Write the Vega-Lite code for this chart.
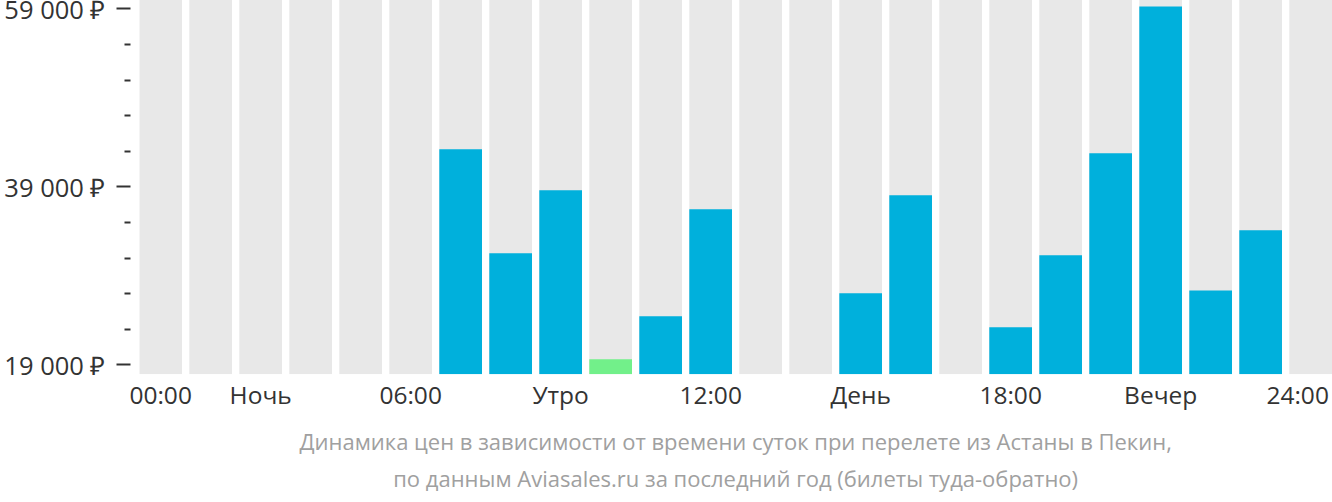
{
  "$schema": "https://vega.github.io/schema/vega-lite/v6.json",
  "width": 1192.7,
  "height": 374.3,
  "autosize": {"type": "none"},
  "padding": {"left": 139.3, "top": 0, "right": 0, "bottom": 127.7},
  "background": "white",
  "config": {
    "view": {"stroke": null},
    "font": "Open Sans"
  },
  "title": {
    "text": ["Динамика цен в зависимости от времени суток при перелете из Астаны в Пекин,", "по данным Aviasales.ru за последний год (билеты туда-обратно)"],
    "orient": "bottom",
    "anchor": "middle",
    "fontSize": 22,
    "fontWeight": "normal",
    "color": "#a0a0a0",
    "lineHeight": 37,
    "offset": 25
  },
  "data": {
    "values": [
      {"hour": 0, "price": null, "kind": "none"},
      {"hour": 1, "price": null, "kind": "none"},
      {"hour": 2, "price": null, "kind": "none"},
      {"hour": 3, "price": null, "kind": "none"},
      {"hour": 4, "price": null, "kind": "none"},
      {"hour": 5, "price": null, "kind": "none"},
      {"hour": 6, "price": 43160, "kind": "regular"},
      {"hour": 7, "price": 31470, "kind": "regular"},
      {"hour": 8, "price": 38550, "kind": "regular"},
      {"hour": 9, "price": 19560, "kind": "cheapest"},
      {"hour": 10, "price": 24400, "kind": "regular"},
      {"hour": 11, "price": 36420, "kind": "regular"},
      {"hour": 12, "price": null, "kind": "none"},
      {"hour": 13, "price": null, "kind": "none"},
      {"hour": 14, "price": 26980, "kind": "regular"},
      {"hour": 15, "price": 37990, "kind": "regular"},
      {"hour": 16, "price": null, "kind": "none"},
      {"hour": 17, "price": 23160, "kind": "regular"},
      {"hour": 18, "price": 31250, "kind": "regular"},
      {"hour": 19, "price": 42710, "kind": "regular"},
      {"hour": 20, "price": 59220, "kind": "regular"},
      {"hour": 21, "price": 27310, "kind": "regular"},
      {"hour": 22, "price": 34060, "kind": "regular"},
      {"hour": 23, "price": null, "kind": "none"}
    ]
  },
  "encoding": {
    "x": {
      "field": "hour",
      "type": "ordinal",
      "scale": {"paddingInner": 0.146, "paddingOuter": 0},
      "axis": {
        "title": null,
        "domain": false,
        "ticks": false,
        "labelAngle": 0,
        "labelFontSize": 24.5,
        "labelColor": "#333333",
        "labelPadding": 10,
        "labelOverlap": false,
        "labelBound": false,
        "values": [0, 2, 5, 8, 11, 14, 17, 20, 23],
        "labelOffset": {"condition": {"test": "datum.value == 23", "value": -13}, "value": 0},
        "labelExpr": "{'0':'00:00','2':'Ночь','5':'06:00','8':'Утро','11':'12:00','14':'День','17':'18:00','20':'Вечер','23':'24:00'}[datum.value + '']"
      }
    }
  },
  "layer": [
    {
      "mark": {"type": "bar", "color": "#e8e8e8", "clip": true},
      "encoding": {
        "y": {
          "datum": 59940,
          "type": "quantitative",
          "scale": {"domain": [17880, 59940], "zero": false, "nice": false},
          "axis": {
            "title": null,
            "domain": false,
            "grid": false,
            "offset": 9.3,
            "tickCount": 20,
            "values": [19000, 23000, 27000, 31000, 35000, 39000, 43000, 47000, 51000, 55000, 59000],
            "tickColor": "#333333",
            "tickWidth": 2,
            "tickSize": {"condition": {"test": "datum.value % 20000 == 19000", "value": 14}, "value": 6},
            "labelFontSize": 25.5,
            "labelColor": "#333333",
            "labelPadding": 11,
            "labelOffset": 2,
            "labelOverlap": false,
            "labelExpr": "datum.value % 20000 == 19000 ? replace(format(datum.value, ',d'), ',', ' ') + ' ₽' : ''"
          }
        },
        "y2": {"datum": 17880}
      }
    },
    {
      "mark": {"type": "bar", "clip": true},
      "transform": [{"filter": "datum.price != null"}],
      "encoding": {
        "y": {"field": "price", "type": "quantitative"},
        "y2": {"datum": 17880},
        "color": {
          "field": "kind",
          "type": "nominal",
          "scale": {"domain": ["regular", "cheapest"], "range": ["#00b0dc", "#72f08a"]},
          "legend": null
        }
      }
    }
  ]
}
